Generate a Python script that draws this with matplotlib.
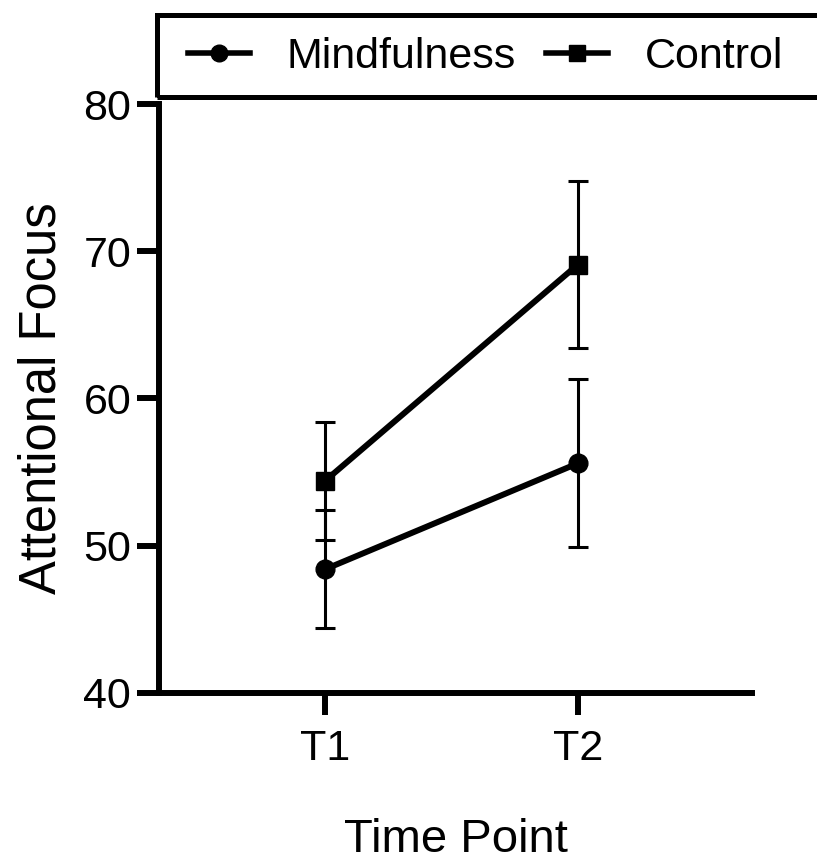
import numpy as np
import matplotlib
matplotlib.use('agg')
import matplotlib.pyplot as plt
from matplotlib.patches import Rectangle
from matplotlib.lines import Line2D

plt.rcParams['font.family'] = ['Liberation Sans', 'DejaVu Sans']

# data
time_points = ['T1', 'T2']
mind_mean = [48.4, 55.6]
mind_err = [4.0, 5.7]
ctrl_mean = [54.4, 69.1]
ctrl_err = [4.0, 5.7]

x = np.arange(1, len(time_points) + 1)

fig = plt.figure(figsize=(8.17, 8.6), dpi=100)
ax = fig.add_axes([159/817, 1-693/860, (752-159)/817, (693-104)/860])

ax.errorbar(x, ctrl_mean, yerr=ctrl_err, color='black', lw=4.3, marker='s',
            ms=13, capsize=7.2, elinewidth=2.2, capthick=2.2)
ax.errorbar(x, mind_mean, yerr=mind_err, color='black', lw=4.3, marker='o',
            ms=13.5, capsize=7.2, elinewidth=2.2, capthick=2.2)

ax.set_xlim(0.344, 2.688)
ax.set_ylim(40, 80)
ax.set_yticks([40, 50, 60, 70, 80])
ax.set_xticks(x)
ax.set_xticklabels(time_points)

for s in ['top', 'right']:
    ax.spines[s].set_visible(False)
for s in ['left', 'bottom']:
    ax.spines[s].set_linewidth(4.3)
ax.tick_params(width=4.3, length=16, labelsize=31)
ax.tick_params(axis='y', pad=4)
ax.tick_params(axis='x', pad=10)

ax.set_ylabel('Attentional Focus', fontsize=36.5, labelpad=12)
ax.set_xlabel('Time Point', fontsize=34, labelpad=35)

# legend box at top, running off the right edge
box = Rectangle((157/817, 1-97/860), 700/817, 82/860, transform=fig.transFigure,
                fill=False, lw=3.6, ec='black', clip_on=False)
fig.patches.append(box)

handles = [Line2D([], [], color='black', lw=4, marker='o', ms=12),
           Line2D([], [], color='black', lw=4, marker='s', ms=11)]
fig.legend(handles, ['Mindfulness', 'Control'], loc='center left', ncol=2,
           bbox_to_anchor=(188/817, 1-57/860), frameon=False,
           fontsize=31, handlelength=1.44, handletextpad=0.85,
           columnspacing=0.7, borderpad=0, borderaxespad=0)

fig.savefig('out.png', dpi=100)
